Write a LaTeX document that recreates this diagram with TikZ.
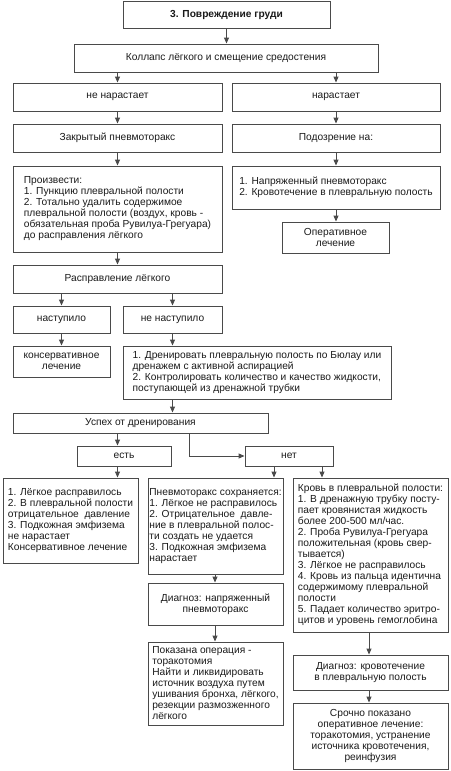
\documentclass[tikz,border=0pt]{standalone}
\usepackage{fontspec}
\setmainfont{Liberation Sans}
\usetikzlibrary{arrows.meta}
\definecolor{ln}{HTML}{4A4A4A}
\definecolor{tx}{HTML}{1A1A1A}
\tikzset{
  box/.style={draw=ln, line width=0.9pt, inner sep=0pt, anchor=center, text=tx,
    font=\fontsize{10.2}{11}\selectfont, align=center},
  arr/.style={draw=ln, line width=0.9pt, -{Triangle[width=5pt,length=6pt]}},
}
\newcommand\cbox[6]{%
  \pgfmathsetmacro\bw{#4-#2}\pgfmathsetmacro\bh{#5-#3}%
  \node[box,minimum width=\bw pt,minimum height=\bh pt] (#1) at ({(#2+#4)/2},{(#3+#5)/2}) {#6};}
\newcommand\lbox[6]{%
  \pgfmathsetmacro\bw{#4-#2}\pgfmathsetmacro\bh{#5-#3}%
  \node[box,align=left,minimum width=\bw pt,minimum height=\bh pt] (#1) at ({(#2+#4)/2},{(#3+#5)/2}) {#6};}
\begin{document}
\begin{tikzpicture}[x=1pt,y=-1pt]
\useasboundingbox (0,0) rectangle (450,771);
\cbox{title}{123}{1}{330}{28}{\textbf{3. Повреждение груди}}
\cbox{collapse}{74}{44}{378}{72}{Коллапс лёгкого и смещение средостения}
\cbox{nenar}{13}{83}{222}{111}{не нарастает}
\cbox{nar}{232}{83}{440}{111}{нарастает}
\cbox{closed}{13}{124}{222}{152}{Закрытый пневмоторакс}
\cbox{podozr}{232}{124}{440}{152}{Подозрение на:}
\lbox{proizv}{13}{166}{222}{252}{Произвести:\\1. Пункцию плевральной полости\\2. Тотально удалить содержимое\\плевральной полости (воздух, кровь -\\обязательная проба Рувилуа-Грегуара)\\до расправления лёгкого}
\lbox{napr}{232}{166}{440}{209}{1. Напряженный пневмоторакс\\2. Кровотечение в плевральную полость}
\cbox{oper}{282}{222}{389}{253}{Оперативное\\лечение}
\cbox{raspr}{13}{265}{222}{293}{Расправление лёгкого}
\cbox{nastup}{13}{306}{110}{333}{наступило}
\cbox{nenastup}{123}{306}{222}{333}{не наступило}
\cbox{kons}{13}{346}{110}{377}{консервативное\\лечение}
\lbox{dren}{123}{346}{391}{399}{1. Дренировать плевральную полость по Бюлау или\\дренажем с активной аспирацией\\2. Контролировать количество и качество жидкости,\\поступающей из дренажной трубки}
\cbox{uspeh}{13}{413}{268}{433}{Успех от дренирования}
\cbox{est}{77}{446}{171}{466}{есть}
\cbox{net}{245}{446}{333}{466}{нет}
\lbox{left}{3}{478}{138}{563}{1. Лёгкое расправилось\\2. В плевральной полости\\отрицательное \ давление\\3. Подкожная эмфизема\\не нарастает\\Консервативное лечение}
\lbox{mid}{148}{478}{283}{574}{Пневмоторакс сохраняется:\\1. Лёгкое не расправилось\\2. Отрицательное \ давле-\\ние в плевральной полос-\\ти создать не удается\\3. Подкожная эмфизема\\нарастает}
\lbox{right}{293}{478}{448}{632}{Кровь в плевральной полости:\\1. В дренажную трубку посту-\\пает кровянистая жидкость\\более 200-500 мл/час.\\2. Проба Рувилуа-Грегуара\\положительная (кровь свер-\\тывается)\\3. Лёгкое не расправилось\\4. Кровь из пальца идентична\\содержимому плевральной\\полости\\5. Падает количество эритро-\\цитов и уровень гемоглобина}
\cbox{diagM}{148}{583}{283}{625}{Диагноз: напряженный\\пневмоторакс}
\lbox{pokaz}{148}{642}{283}{725}{Показана операция -\\торакотомия\\Найти и ликвидировать\\источник воздуха путем\\ушивания бронха, лёгкого,\\резекции размозженного\\лёгкого}
\cbox{diagR}{293}{655}{448}{690}{Диагноз: кровотечение\\в плевральную полость}
\cbox{sroch}{293}{703}{448}{769}{Срочно показано\\оперативное лечение:\\торакотомия, устранение\\источника кровотечения,\\реинфузия}
% connectors
\draw[arr] (title.south) -- (collapse.north -| title.south);
\draw[arr] (collapse.south -| nenar.north) -- (nenar.north);
\draw[arr] (collapse.south -| nar.north) -- (nar.north);
\draw[arr] (nenar.south) -- (closed.north);
\draw[arr] (nar.south) -- (podozr.north);
\draw[arr] (closed.south) -- (proizv.north);
\draw[arr] (podozr.south) -- (napr.north);
\draw[arr] (napr.south) -- (oper.north -| napr.south);
\draw[arr] (proizv.south) -- (raspr.north);
\draw[arr] (raspr.south -| nastup.north) -- (nastup.north);
\draw[arr] (raspr.south -| nenastup.north) -- (nenastup.north);
\draw[arr] (nastup.south) -- (kons.north);
\draw[arr] (nenastup.south) -- (nenastup.south |- dren.north);
\draw[arr] (dren.south -| nenastup.south) -- (uspeh.north -| nenastup.south);
\draw[arr] (uspeh.south -| nenar.south) -- (est.north -| nenar.south);
\draw[arr] (uspeh.south -| 189,0) |- (net.west);
\draw[arr] (est.south -| nenar.south) -- (left.north -| nenar.south);
\draw[arr] (net.south -| 274,0) -- (mid.north -| 274,0);
\draw[arr] (net.south -| 322,0) -- (right.north -| 322,0);
\draw[arr] (mid.south -| 215,0) -- (diagM.north -| 215,0);
\draw[arr] (diagM.south -| 215,0) -- (pokaz.north -| 215,0);
\draw[arr] (right.south -| 369,0) -- (diagR.north -| 369,0);
\draw[arr] (diagR.south -| 369,0) -- (sroch.north -| 369,0);
\end{tikzpicture}
\end{document}
